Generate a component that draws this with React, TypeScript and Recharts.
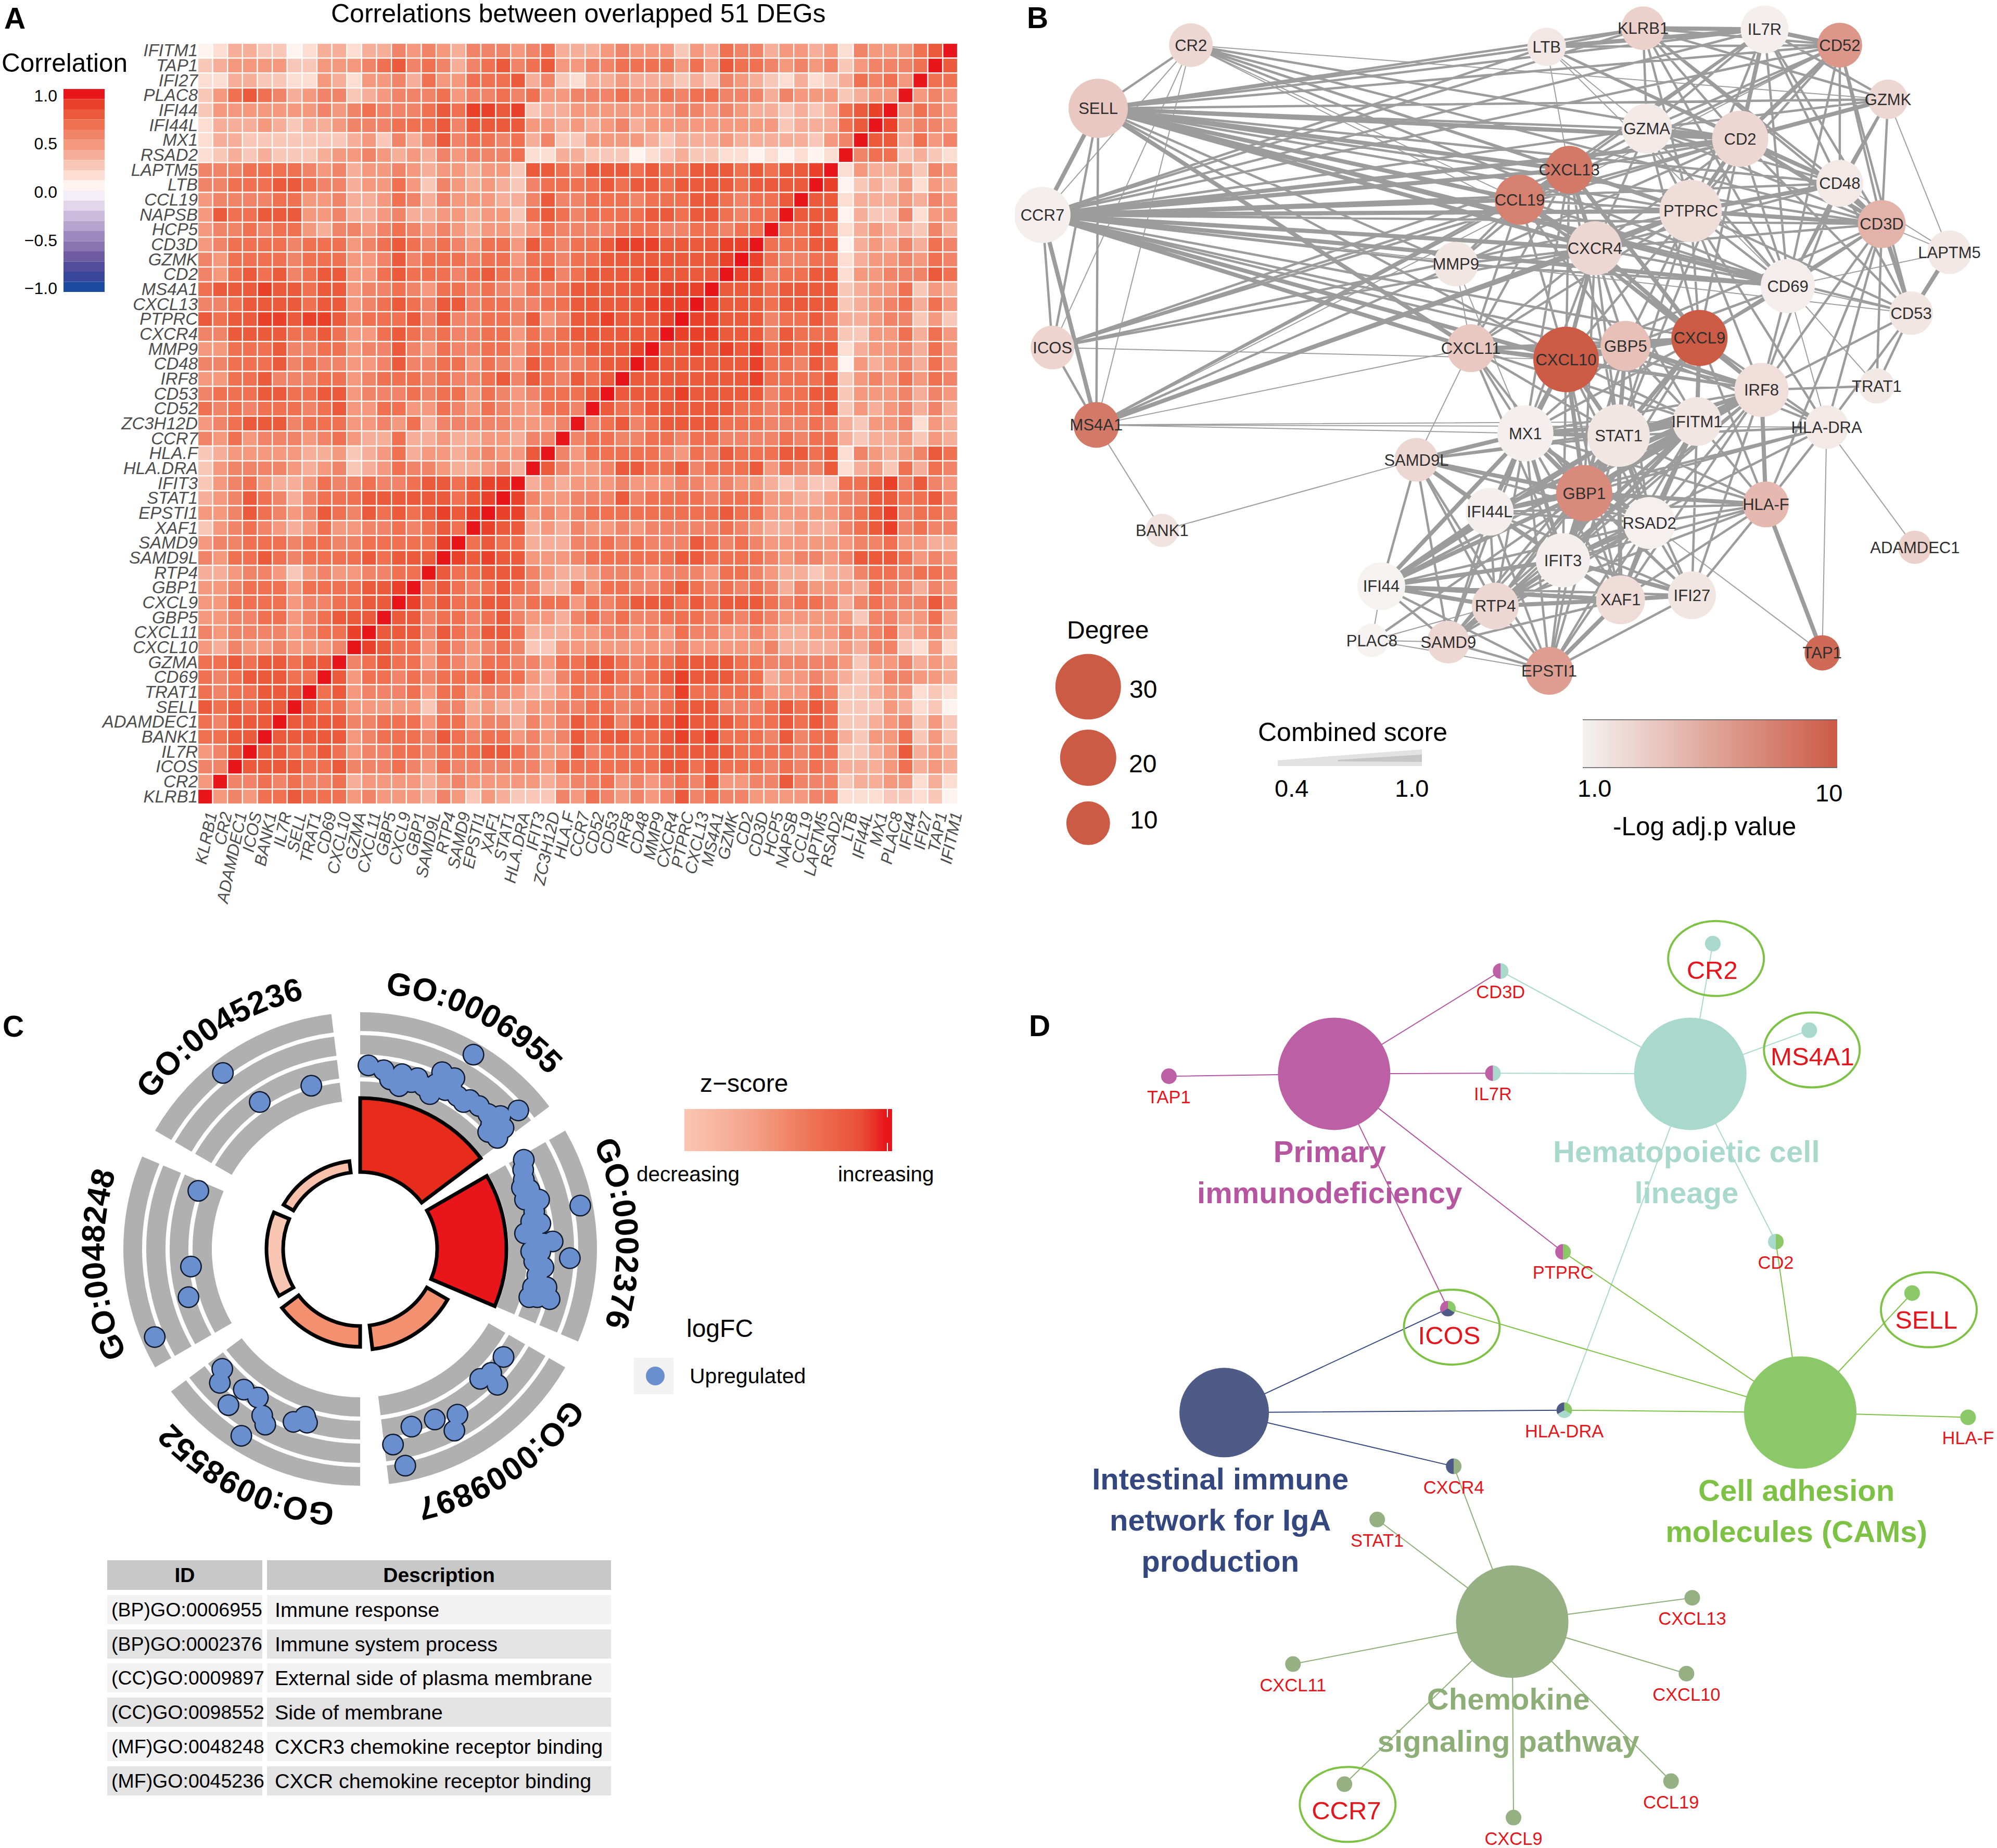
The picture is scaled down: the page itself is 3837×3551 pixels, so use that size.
import React from 'react';
import {
  Area, AreaChart, Bar, BarChart, Cell, ComposedChart, Line, Pie, PieChart, ReferenceLine,
  Scatter, ScatterChart, XAxis, YAxis,
} from 'recharts';

const FONT = '"Liberation Sans", Arial, sans-serif';

// ---- panel A: correlation heatmap
const rowGenes = ['IFITM1','TAP1','IFI27','PLAC8','IFI44','IFI44L','MX1','RSAD2','LAPTM5','LTB','CCL19','NAPSB','HCP5','CD3D','GZMK','CD2','MS4A1','CXCL13','PTPRC','CXCR4','MMP9','CD48','IRF8','CD53','CD52','ZC3H12D','CCR7','HLA.F','HLA.DRA','IFIT3','STAT1','EPSTI1','XAF1','SAMD9','SAMD9L','RTP4','GBP1','CXCL9','GBP5','CXCL11','CXCL10','GZMA','CD69','TRAT1','SELL','ADAMDEC1','BANK1','IL7R','ICOS','CR2','KLRB1'];
const colGenes = ['KLRB1','CR2','ADAMDEC1','ICOS','BANK1','IL7R','SELL','TRAT1','CD69','CXCL10','GZMA','CXCL11','GBP5','CXCL9','GBP1','SAMD9L','RTP4','SAMD9','EPSTI1','XAF1','STAT1','HLA.DRA','IFIT3','ZC3H12D','HLA.F','CCR7','CD52','CD53','IRF8','CD48','MMP9','CXCR4','PTPRC','CXCL13','MS4A1','GZMK','CD2','CD3D','HCP5','NAPSB','CCL19','LAPTM5','RSAD2','LTB','IFI44L','MX1','PLAC8','IFI44','IFI27','TAP1','IFITM1'];

// lower-right triangle, in tenths (X = 1.0); row r starts on the diagonal
const corrTriangle = [
  'X','X8','X77','X565','X5765','X95665','X884756','X6773432','X25445365','X913435254',
  'X8824445465','X88814336255','X778724544364','X7778814546476','X97667724556576','X996778825566687',
  'X8887888834557354','X98887888834567475','X998886778744566353','X9998886877733557475',
  'X88989897878824556475','X988888897768715456475','X8888888897777835657576',
  'X888898888867788' + '35556465',
  'X8778888887767778' + '35456464',
  'X67867888877766676' + '43556254',
  'X677667767766667677' + '43445354',
  'X657777765' + '7687778878' + '26545687',
  'X865568877' + '8677785766' + '824537476',
  'X4545556555' + '6656554343' + '377896865',
  'X9' + '6556668677' + '7767775544' + '566887786',
  'X99' + '5656777777' + '7778775555' + '567896776',
  'X988' + '4546556566' + '6667654454' + '467896766',
  'X7877' + '4446676766' + '6876765555' + '556675544',
  'X98988' + '5556777777' + '8877776566' + '568887565',
  'X877888' + '6544566656' + '6657765443' + '446776776',
  'X7876787' + '6447577667' + '8767676465' + '554766465',
  'X97877886' + '7775767888' + '7878887677' + '646766686',
  'X886776786' + '5546767667' + '7767676555' + '553665574',
  'X8886876887' + '4445566565' + '7665565445' + '565674564',
  'X98775765676' + '3355555555' + '6555556444' + '454663252',
  'X678775765776' + '6577887677' + '8888776666' + '653556454',
  'X8577676777877' + '5467787678' + '9888774556' + '543466554',
  'X78566675775665' + '4457676767' + '9777775557' + '633455232',
  'X877555553664544' + '5566776667' + '8886667878' + '733354231',
  'X8888667775775664' + '6568786888' + '9888777878' + '733456353',
  'X88888567776876775' + '6568788778' + '9897776867' + '743557353',
  'X887787566776777887' + '6558677778' + '8888777767' + '733458454',
  'X8888778666765766666' + '6577777778' + '8787776767' + '644457454',
  'X66767667455554565555' + '5456675656' + '7685566866' + '634455242',
  'X565778777565554653543' + '3365765656' + '8676655556' + '622233231',
];

const corrAt = (r: number, c: number): number => {
  const [row, col] = r + c >= 50 ? [r, c] : [50 - c, 50 - r];
  const ch = corrTriangle[row][col - (50 - row)];
  return ch === 'X' ? 1 : Number(ch) / 10;
};

const heatCells = rowGenes.flatMap((_, r) =>
  colGenes.map((__, c) => ({ x: c + 0.5, y: r + 0.5, corr: corrAt(r, c) })),
);
const geneTicks = colGenes.map((_, i) => i + 0.5);

const corrScale = ['#E8161B','#EA412A','#EC5A3C','#EF7152','#F18468','#F4997E','#F6AE98','#F9C7B7','#FBDDD2','#FEF3EE','#F4EFF6','#E2D6EA','#CBBCDD','#B6A4CE','#9D88BF','#8874B1','#6E5BA0','#524C9B','#39479B','#1C4A9F'];
const corrColor = (v: number) => corrScale[Math.min(19, Math.max(0, Math.floor((1.054 - v) / 0.1054)))];
const corrBins = corrScale.map((fill, i) => ({ x: 0.5, y: 1.054 - 0.1054 * (i + 0.5), fill }));
const corrTicks = [1, 0.5, 0, -0.5, -1];

// ---- panel B: PPI network
const ppiNodes: [string, number, number, number, number][] = [
  ['CR2',281,80,42,0.18],['LTB',849,83,37,0.07],['KLRB1',1003,50,42,0.22],['IL7R',1197,52,46,0.02],['CD52',1317,80,43,0.6],
  ['GZMK',1394,176,38,0.18],['SELL',133,192,57,0.28],['GZMA',1009,228,48,0.05],['CD2',1158,246,54,0.18],['CXCL13',885,301,46,0.8],
  ['CD48',1317,325,45,0.05],['CCL19',806,354,48,0.75],['PTPRC',1079,374,60,0.14],['CCR7',44,381,54,0.02],['CD3D',1384,397,46,0.42],
  ['CXCR4',926,440,52,0.18],['MMP9',704,468,43,0.08],['LAPTM5',1492,447,42,0.06],['CD69',1234,507,52,0.03],['CD53',1431,555,42,0.08],
  ['CXCL9',1093,599,54,1],['CXCL10',880,637,63,1],['GBP5',975,613,48,0.33],['CXCL11',728,617,46,0.28],['ICOS',60,616,42,0.2],
  ['IRF8',1192,691,52,0.13],['TRAT1',1376,684,34,0.06],['MS4A1',130,753,44,0.8],['IFITM1',1089,747,47,0.08],['HLA-DRA',1296,757,42,0.05],
  ['MX1',815,768,54,0.02],['STAT1',964,772,60,0.08],['SAMD9L',641,815,42,0.18],['GBP1',909,874,54,0.68],['HLA-F',1199,894,44,0.38],
  ['IFI44L',758,907,46,0.02],['RSAD2',1013,927,50,0.01],['BANK1',235,940,32,0.1],['ADAMDEC1',1437,970,32,0.22],['IFIT3',875,993,52,0.02],
  ['IFI44',585,1039,46,0],['IFI27',1081,1055,46,0.08],['XAF1',967,1063,47,0.15],['RTP4',767,1074,45,0.18],['SAMD9',692,1138,41,0.18],
  ['PLAC8',570,1135,32,0],['EPSTI1',853,1189,46,0.55],['TAP1',1289,1157,34,0.9],
];

const thickEdges = [
  'SELL>CCR7 CD2 CCL19 CXCL13 CXCL11 CXCR4 CD69','CCR7>CXCL13 CCL19 CXCL11 CXCL10 CXCR4 PTPRC CD2 CD69 MS4A1',
  'CXCL10>CXCL11 GBP5 CXCL9 STAT1 MX1 GBP1 CXCR4','CXCL9>GBP5 IRF8 CXCR4 CXCL13 STAT1 IFITM1','GBP5>CXCL11 IRF8 STAT1',
  'MX1>STAT1 IFITM1 GBP1 IFIT3 IFI44L RSAD2 IFI44 SAMD9L','STAT1>IFITM1 GBP1 IFIT3 IRF8 XAF1 RSAD2 IFI44','IFITM1>IRF8 GBP1 IFIT3 RSAD2',
  'IFIT3>RSAD2 GBP1 XAF1 IFI44 IFI44L RTP4 IFI27','XAF1>IFI27 RSAD2 EPSTI1 RTP4','IFI44>IFI44L RTP4 GBP1 XAF1','GBP1>IRF8 IFI44L RSAD2 HLA-F',
  'CD2>GZMA CD3D GZMK CD48 PTPRC CD52 IL7R','PTPRC>CD3D CXCL13 CD48 CXCR4 MS4A1','KLRB1>IL7R','IL7R>LTB CD52','CD3D>CD53 CD48','TAP1>HLA-F',
  'LAPTM5>CD53','CXCL13>CCL19 CXCR4','CXCR4>CCL19','SAMD9L>GBP1 IFI44L','IRF8>HLA-F IFI44L',
];
const midEdges = [
  'SELL>ICOS MS4A1 LTB CD48 GZMA CD3D MMP9 CD53 IL7R CXCL10 PTPRC KLRB1 CD52 GZMK','CCR7>ICOS GZMA LTB IL7R CD3D CD48 MMP9 CD52 KLRB1 CXCL9 GBP5 IRF8',
  'CR2>SELL CD2 PTPRC CD69 CXCL13 CD3D','ICOS>CD2 CXCR4 CXCL13 CCL19 PTPRC','MS4A1>CXCL13 CCL19 CXCR4 CD2 ICOS','LTB>IL7R CD52 KLRB1 CD2 CD48',
  'KLRB1>CD2 GZMA CD48 CD3D GZMK CD69 PTPRC CD52','IL7R>GZMA CD48 CD3D GZMK PTPRC CCL19 CXCL13 CD69','CD52>GZMA CD48 CD3D CD53 CD69 CCL19 PTPRC',
  'GZMK>GZMA CD48 CD3D CD69','GZMA>CD48 CD3D PTPRC CXCR4 CXCL13 CD69 CXCL9','CD2>CD69 CD53 CXCR4 CXCL13 CCL19 CXCL9 STAT1','CD48>CD3D CD53 CD69 CXCR4 IRF8',
  'PTPRC>CCL19 CD69 CD53 CXCL9 CXCL10 GBP5 IRF8 HLA-DRA CXCL11 STAT1','CD3D>CD69 CXCR4 CXCL9 CXCL10 HLA-F HLA-DRA IRF8 TRAT1','CD53>LAPTM5 TRAT1 IRF8 HLA-DRA',
  'CXCL13>CXCL9 CXCL10 GBP5 CXCL11 STAT1 MMP9 MX1','CCL19>CXCL9 CXCL10 CXCL11 GBP5 MMP9 IRF8 CD69','CXCR4>CXCL11 GBP5 CD69 MMP9 STAT1 IRF8 MX1 IFITM1 GBP1',
  'CXCL11>GBP5 CXCL9 STAT1 MX1 GBP1 IFITM1 IRF8 IFIT3','CXCL10>IRF8 IFITM1 GBP1 IFIT3 RSAD2 IFI44L XAF1','CXCL9>STAT1 MX1 GBP1 HLA-DRA HLA-F IFIT3','GBP5>MX1 GBP1 IFITM1 HLA-DRA IFIT3 RSAD2',
  'IRF8>HLA-DRA IFIT3 RSAD2 MX1 TRAT1 XAF1 IFI27 IFI44 RTP4','IFITM1>HLA-F IFI44L XAF1 IFI27 IFI44 RTP4 EPSTI1 SAMD9 SAMD9L','HLA-DRA>HLA-F GBP1 IFIT3 STAT1 IFI44L','STAT1>HLA-F IFI44L EPSTI1 IFI27 RTP4 SAMD9L SAMD9',
  'MX1>IRF8 HLA-F XAF1 RTP4 SAMD9 EPSTI1 IFI27','GBP1>IFIT3 XAF1 RTP4 EPSTI1 IFI27 IFI44 SAMD9 PLAC8','IFI44L>RSAD2 RTP4 XAF1 EPSTI1 SAMD9 IFI27 IFIT3 HLA-F',
  'RSAD2>XAF1 IFI27 RTP4 HLA-F EPSTI1 IFI44 SAMD9 SAMD9L','IFIT3>EPSTI1 SAMD9 SAMD9L HLA-F','IFI44>SAMD9 SAMD9L EPSTI1 IFI27 RSAD2 IFI44L','RTP4>SAMD9 EPSTI1 IFI27 SAMD9L HLA-F',
  'SAMD9>EPSTI1 SAMD9L XAF1','EPSTI1>IFI27 SAMD9L','HLA-F>IFI27 IFITM1 RSAD2 XAF1','MMP9>CD69 CCR7 SELL','CD69>IRF8 CXCL9 GBP5',
];
const thinEdges = [
  'CCR7>CR2 CD53','CR2>MS4A1 ICOS CCR7 CXCR4 GZMK CCL19','MS4A1>BANK1 CCR7 SELL MX1 IFITM1 CXCL11 CD52 HLA-DRA','BANK1>SAMD9L','ICOS>CXCL10 CCR7 MS4A1',
  'LTB>CXCL13 CD69 GZMA','CD69>CD53 CD3D IRF8 TRAT1 HLA-DRA','LAPTM5>GZMK CD3D CD48 CD69','TRAT1>IRF8 CD3D','MMP9>CXCL11 MX1','SAMD9L>CXCL11 MX1',
  'HLA-DRA>ADAMDEC1 TAP1','RSAD2>TAP1','PLAC8>IFI44 RTP4 SAMD9','EPSTI1>SAMD9 PLAC8','IRF8>GBP5 HLA-DRA TRAT1',
];
const degreeKey = [{ x: 117, y: 1217, r: 63 }, { x: 117, y: 1343, r: 54 }, { x: 117, y: 1459, r: 42 }];
const scoreKey = [
  { score: 0.4, width: 11, core: null },
  { score: 0.65, width: 20, core: [9, 12] },
  { score: 1, width: 32, core: [8, 22] },
];

const ppiPoints = (groups: string[]) => {
  const at = Object.fromEntries(ppiNodes.map(n => [n[0], { x: n[1], y: n[2] }]));
  return groups.flatMap(g => {
    const [from, to] = g.split('>');
    return to.split(' ').flatMap(t => [at[from], at[t], { x: at[t].x, y: null }]);
  });
};
const ppiRows = ppiNodes.map(([name, x, y, r, logP]) => ({ name, x, y, r, logP }));

const shade = (t: number) => {
  const a = [245, 242, 241];
  const b = [203, 91, 69];
  return `rgb(${a.map((v, i) => Math.round(v + (b[i] - v) * t)).join(',')})`;
};

// ---- panel C: GO circle
const goTerms = ['GO:0006955', 'GO:0002376', 'GO:0009897', 'GO:0098552', 'GO:0048248', 'GO:0045236'];
const goDescriptions = ['Immune response', 'Immune system process', 'External side of plasma membrane', 'Side of membrane', 'CXCR3 chemokine receptor binding', 'CXCR chemokine receptor binding'];
const goIds = ['(BP)GO:0006955', '(BP)GO:0002376', '(CC)GO:0009897', '(CC)GO:0098552', '(MF)GO:0048248', '(MF)GO:0045236'];
const goBarHeights = [142, 133, 46, 40, 32, 22];
const goBarColors = ['#E82C1C', '#E8161B', '#F2906F', '#F2906F', '#F9C5B3', '#F9C0AB'];
const goRingSlices = [53, 7, 53, 7, 53, 7, 53, 7, 53, 7, 53, 7].map(value => ({ value }));
const goTracks = [[419, 455], [374, 411], [330, 366], [285, 322]];
const goDots = [
  [771,296],[844,436],[600,323],[625,335],[655,345],[635,358],[650,375],[680,355],[690,375],[720,340],[740,355],[710,370],[725,385],[700,395],[745,400],[765,410],[780,425],[795,445],[815,450],[800,470],[820,480],[810,505],[795,490],[670,365],[755,415],[735,375],
  [945,675],[928,807],[853,560],[852,585],[853,610],[850,630],[878,660],[855,660],[870,690],[880,720],[868,750],[900,765],[880,790],[870,815],[885,830],[875,850],[890,880],[862,905],[895,910],[855,745],[862,635],[865,715],[885,770],[865,790],[868,880],[875,905],
  [820,1055],[800,1095],[782,1110],[810,1125],[745,1200],[740,1240],[708,1212],[670,1230],[640,1275],[660,1328],
  [362,1085],[358,1120],[397,1137],[420,1157],[372,1176],[427,1202],[432,1225],[497,1205],[478,1218],[500,1220],[393,1253],
  [323,638],[311,828],[307,905],[252,1005],
  [363,342],[507,374],[423,415],
].map(([x, y]) => ({ x, y }));

// ---- panel D: pathway network
const MAGENTA = '#BC5FA5';
const TEAL = '#A8D9CA';
const GREEN = '#8BC968';
const NAVY = '#4E5B87';
const OLIVE = '#95B082';
const pathways: [string, number, number, number, string][] = [
  ['Primary', 537, 273, 108, MAGENTA], ['Hema', 1091, 273, 108, TEAL], ['Intestinal', 366, 840, 86, NAVY],
  ['Adhesion', 1262, 840, 108, GREEN], ['Chemokine', 814, 1190, 108, OLIVE],
];
const pathwayGenes: [string, number, number, string[]][] = [
  ['TAP1',280,277,[MAGENTA]],['CD3D',796,101,[TEAL,MAGENTA]],['IL7R',784,272,[TEAL,MAGENTA]],['CR2',1126,55,[TEAL]],['MS4A1',1276,200,[TEAL]],
  ['PTPRC',893,571,[GREEN,MAGENTA]],['CD2',1224,554,[GREEN,TEAL]],['ICOS',714,666,[GREEN,NAVY,MAGENTA]],['SELL',1436,640,[GREEN]],['HLA-F',1523,848,[GREEN]],
  ['HLA-DRA',895,836,[GREEN,TEAL,NAVY]],['CXCR4',723,930,[OLIVE,NAVY]],['STAT1',604,1019,[OLIVE]],['CXCL13',1094,1150,[OLIVE]],['CXCL10',1085,1277,[OLIVE]],
  ['CXCL11',473,1261,[OLIVE]],['CCL19',1061,1457,[OLIVE]],['CXCL9',816,1518,[OLIVE]],['CCR7',553,1462,[OLIVE]],
];
const pathwayLinks: [string, string, string[]][] = [
  ['Primary', '#B455A0', ['TAP1','CD3D','IL7R','PTPRC','ICOS']],
  ['Hema', '#A8D9CA', ['CD3D','IL7R','CR2','MS4A1','CD2','HLA-DRA']],
  ['Adhesion', '#7DC245', ['PTPRC','CD2','ICOS','SELL','HLA-F','HLA-DRA']],
  ['Intestinal', '#34477F', ['ICOS','HLA-DRA','CXCR4']],
  ['Chemokine', '#8EAE77', ['CXCR4','STAT1','CXCL13','CXCL10','CXCL11','CCL19','CXCL9','CCR7']],
];
const circledGenes = [
  { x: 1131, y: 80, name: 'CR2', lx: 1125, ly: 99 }, { x: 1280, y: 233, name: 'MS4A1', lx: 1281, ly: 244 }, { x: 720, y: 697, name: 'ICOS', lx: 716, ly: 711 },
  { x: 1462, y: 668, name: 'SELL', lx: 1458, ly: 685 }, { x: 558, y: 1496, name: 'CCR7', lx: 556, ly: 1506 },
];
const pathwayTitles = [
  { x: 530, y: 403, text: 'Primary', fill: '#B655A0' }, { x: 530, y: 472, text: 'immunodeficiency', fill: '#B655A0' },
  { x: 1085, y: 403, text: 'Hematopoietic cell', fill: '#A8D9CA' }, { x: 1085, y: 472, text: 'lineage', fill: '#A8D9CA' },
  { x: 360, y: 951, text: 'Intestinal immune', fill: '#34477F' }, { x: 360, y: 1020, text: 'network for IgA', fill: '#34477F' }, { x: 360, y: 1089, text: 'production', fill: '#34477F' },
  { x: 1256, y: 970, text: 'Cell adhesion', fill: '#7DC245' }, { x: 1256, y: 1039, text: 'molecules (CAMs)', fill: '#7DC245' },
  { x: 808, y: 1320, text: 'Chemokine', fill: '#8EAE77' }, { x: 808, y: 1390, text: 'signaling pathway', fill: '#8EAE77' },
];

const pathwayLinkPoints = (from: string, to: string[]) => {
  const hub = pathways.find(p => p[0] === from)!;
  return to.flatMap(t => {
    const g = pathwayGenes.find(n => n[0] === t)!;
    return [{ x: hub[1], y: hub[2] }, { x: g[1], y: g[2] }, { x: g[1], y: null }];
  });
};

const abs = (left: number, top: number, width: number, height: number): React.CSSProperties => ({
  position: 'absolute', left, top, width, height,
});

function XGeneTick({ x, y, payload }: any) {
  const name = colGenes[Math.round(payload.value - 0.5)];
  return (
    <text transform={`translate(${x + 23},${y + 10}) rotate(-78)`} textAnchor="end" fontFamily={FONT} fontStyle="italic" fontSize={32} fill="#4d4d4d">
      {name}
    </text>
  );
}

function YGeneTick({ x, y, payload }: any) {
  const name = rowGenes[Math.round(payload.value - 0.5)];
  return (
    <text x={x + 8} y={y + 11} textAnchor="end" fontFamily={FONT} fontStyle="italic" fontSize={33} fill="#4d4d4d">
      {name}
    </text>
  );
}

function PpiNode({ cx, cy, payload }: any) {
  return (
    <g>
      <circle cx={cx} cy={cy} r={payload.r} fill={shade(payload.logP)} />
      <text x={cx} y={cy + 11} textAnchor="middle" fontFamily={FONT} fontSize={31} fill="#2f2f2f">{payload.name}</text>
    </g>
  );
}

function GeneNode({ cx, cy, payload }: any) {
  const { colors, name, big } = payload;
  const r = 15;
  const slice = (i: number) => {
    const a0 = (i / colors.length) * 2 * Math.PI;
    const a1 = ((i + 1) / colors.length) * 2 * Math.PI;
    return `M${cx},${cy}L${cx + r * Math.sin(a0)},${cy - r * Math.cos(a0)}A${r},${r} 0 0 1 ${cx + r * Math.sin(a1)},${cy - r * Math.cos(a1)}Z`;
  };
  return (
    <g>
      {colors.length === 1
        ? <circle cx={cx} cy={cy} r={r} fill={colors[0]} />
        : colors.map((c: string, i: number) => <path key={i} d={slice(i)} fill={c} />)}
      {!big && <text x={cx} y={cy + 52} textAnchor="middle" fontFamily={FONT} fontSize={34.5} fill="#E4161B">{name}</text>}
    </g>
  );
}

const GO_CX = 642;
const GO_CY = 620;

function GoLabel({ index }: any) {
  if (index % 2 === 1) return null;
  const i = index / 2;
  const R = 492;
  const a0 = ((i * 60 - 6) * Math.PI) / 180;
  const a1 = ((i * 60 + 59) * Math.PI) / 180;
  const d = `M${GO_CX + R * Math.sin(a0)},${GO_CY - R * Math.cos(a0)}A${R},${R} 0 0 1 ${GO_CX + R * Math.sin(a1)},${GO_CY - R * Math.cos(a1)}`;
  return (
    <g>
      <path id={`go-arc-${i}`} d={d} fill="none" />
      <text fontFamily={FONT} fontWeight={700} fontSize={62} fill="#000">
        <textPath href={`#go-arc-${i}`} startOffset="50%" textAnchor="middle">{goTerms[i]}</textPath>
      </text>
    </g>
  );
}

const T = ({ x, y, s, bold, anchor, fill, children }: any) => (
  <text x={x} y={y} fontSize={s} fontWeight={bold ? 700 : 400} textAnchor={anchor || 'start'} fill={fill || '#000'} fontFamily={FONT}>{children}</text>
);

function HeatmapPanel() {
  const w = 1460 / 51;
  const h = 1462 / 51;
  return (
    <div style={abs(0, 0, 1900, 1800)}>
      <ScatterChart width={1900} height={1800} margin={{ top: 83, left: 0, right: 60, bottom: 0 }}>
        <XAxis type="number" dataKey="x" domain={[0, 51]} ticks={geneTicks} interval={0} tick={XGeneTick} tickLine={false} axisLine={false} height={255} />
        <YAxis type="number" dataKey="y" domain={[0, 51]} ticks={geneTicks} interval={0} tick={YGeneTick} tickLine={false} axisLine={false} width={380} reversed />
        <Scatter
          data={heatCells}
          isAnimationActive={false}
          shape={(p: any) => <rect x={p.cx - w / 2} y={p.cy - h / 2} width={w} height={h} fill={corrColor(p.payload.corr)} stroke="#fff" strokeWidth={2.2} />}
        />
      </ScatterChart>
    </div>
  );
}

function CorrelationKey() {
  return (
    <div style={abs(122, 171, 79, 390)}>
      <ScatterChart width={79} height={390} margin={{ top: 0, left: 0, right: 0, bottom: 0 }}>
        <XAxis type="number" dataKey="x" domain={[0, 1]} hide />
        <YAxis type="number" dataKey="y" domain={[-1.054, 1.054]} hide />
        <Scatter
          data={corrBins}
          isAnimationActive={false}
          shape={(p: any) => <rect x={p.cx - 39.5} y={p.cy - 9.75} width={79} height={19.5} fill={p.payload.fill} />}
        />
        {corrTicks.flatMap(v => [
          <ReferenceLine key={`l${v}`} segment={[{ x: 0, y: v }, { x: 0.2, y: v }]} stroke="#fff" strokeWidth={2} />,
          <ReferenceLine key={`r${v}`} segment={[{ x: 0.8, y: v }, { x: 1, y: v }]} stroke="#fff" strokeWidth={2} />,
        ])}
      </ScatterChart>
    </div>
  );
}

function PpiPanel() {
  return (
    <div style={abs(1950, 0, 1887, 1700)}>
      <ComposedChart width={1887} height={1700} margin={{ top: 0, left: 0, right: 0, bottom: 0 }}>
        <XAxis type="number" dataKey="x" domain={[0, 1568]} hide />
        <YAxis type="number" dataKey="y" domain={[0, 1568]} reversed hide />
        <Line data={ppiPoints(thinEdges)} dataKey="y" stroke="#9f9f9f" strokeWidth={2} dot={false} legendType="none" isAnimationActive={false} />
        <Line data={ppiPoints(midEdges)} dataKey="y" stroke="#9c9c9c" strokeWidth={4.5} dot={false} legendType="none" isAnimationActive={false} />
        <Line data={ppiPoints(thickEdges)} dataKey="y" stroke="#9c9c9c" strokeWidth={8} dot={false} legendType="none" isAnimationActive={false} />
        <Scatter data={ppiRows} isAnimationActive={false} shape={PpiNode} />
        <Scatter data={degreeKey} isAnimationActive={false} shape={(p: any) => <circle cx={p.cx} cy={p.cy} r={p.payload.r} fill="#CB5B45" />} />
      </ComposedChart>
    </div>
  );
}

function ScoreKeys() {
  return (
    <>
      <div style={abs(2455, 1440, 277, 32)}>
        <AreaChart width={277} height={32} data={scoreKey} margin={{ top: 0, left: 0, right: 0, bottom: 0 }}>
          <XAxis type="number" dataKey="score" domain={[0.4, 1]} hide />
          <YAxis type="number" domain={[0, 32]} hide />
          <Area dataKey="width" stroke="none" fill="#E2E2E2" fillOpacity={1} isAnimationActive={false} />
          <Area dataKey="core" stroke="none" fill="#C6C6C6" fillOpacity={1} isAnimationActive={false} />
        </AreaChart>
      </div>
      <div style={abs(3041, 1383, 489, 92)}>
        <BarChart width={489} height={92} data={[{ name: 'logP', v: 1 }]} margin={{ top: 0, left: 0, right: 0, bottom: 0 }} barCategoryGap={0}>
          <defs>
            <linearGradient id="logp-grad" x1="0" x2="1" y1="0" y2="0">
              <stop offset="0" stopColor="#F5F2F1" />
              <stop offset="1" stopColor="#CB5B45" />
            </linearGradient>
          </defs>
          <XAxis dataKey="name" hide />
          <YAxis domain={[0, 1]} hide />
          <Bar dataKey="v" fill="url(#logp-grad)" isAnimationActive={false} />
        </BarChart>
      </div>
      <div style={abs(1315, 2131, 399, 81)}>
        <BarChart width={399} height={81} data={[{ name: 'z', v: 1 }]} margin={{ top: 0, left: 0, right: 0, bottom: 0 }} barCategoryGap={0}>
          <defs>
            <linearGradient id="z-grad" x1="0" x2="1" y1="0" y2="0">
              <stop offset="0" stopColor="#FAC6B3" />
              <stop offset="0.3" stopColor="#F5A68D" />
              <stop offset="0.6" stopColor="#EE7557" />
              <stop offset="0.85" stopColor="#E94F38" />
              <stop offset="0.97" stopColor="#E8161B" />
              <stop offset="1" stopColor="#E8161B" />
            </linearGradient>
          </defs>
          <XAxis dataKey="name" hide />
          <YAxis domain={[0, 1]} hide />
          <Bar dataKey="v" fill="url(#z-grad)" isAnimationActive={false} />
        </BarChart>
      </div>
    </>
  );
}

function GoCirclePanel() {
  return (
    <>
      <div style={abs(50, 1780, 1300, 1240)}>
        <PieChart width={1300} height={1240} margin={{ top: 0, left: 0, right: 0, bottom: 0 }}>
          {goTracks.map(([inner, outer], t) => (
            <Pie key={t} data={goRingSlices} dataKey="value" cx={GO_CX} cy={GO_CY} startAngle={90} endAngle={-270} innerRadius={inner} outerRadius={outer} stroke="none" isAnimationActive={false} label={t === 0 ? GoLabel : false} labelLine={false}>
              {goRingSlices.map((_, i) => <Cell key={i} fill={i % 2 ? 'transparent' : '#B0B0B0'} />)}
            </Pie>
          ))}
          {goBarHeights.map((height, i) => (
            <Pie key={i} data={[{ value: height }]} dataKey="value" cx={GO_CX} cy={GO_CY} startAngle={90 - i * 60} endAngle={37 - i * 60} innerRadius={148} outerRadius={148 + height} stroke="#000" strokeWidth={7} fill={goBarColors[i]} isAnimationActive={false} />
          ))}
        </PieChart>
      </div>
      <div style={abs(0, 1800, 1850, 1200)}>
        <ScatterChart width={1850} height={1200} margin={{ top: 0, left: 0, right: 0, bottom: 0 }}>
          <XAxis type="number" dataKey="x" domain={[0, 1568]} hide />
          <YAxis type="number" dataKey="y" domain={[0, 1568]} reversed hide />
          <Scatter data={goDots} isAnimationActive={false} shape={(p: any) => <circle cx={p.cx} cy={p.cy} r={21} fill="#101a2e" />} />
          <Scatter data={goDots} isAnimationActive={false} shape={(p: any) => <circle cx={p.cx} cy={p.cy} r={18.5} fill="#6A8FCF" />} />
        </ScatterChart>
      </div>
    </>
  );
}

function GoTable() {
  const cell = (left: number, top: number, width: number, height: number, bg: string, text: string, opts: any = {}) => (
    <div key={`${left}-${top}`} style={{ ...abs(left, top, width, height), background: bg, lineHeight: `${height}px`, fontFamily: FONT, color: '#000', whiteSpace: 'nowrap', textAlign: opts.center ? 'center' : 'left', fontSize: opts.size, fontWeight: opts.bold ? 700 : 400 }}>
      <span style={{ paddingLeft: opts.pad || 0 }}>{text}</span>
    </div>
  );
  return (
    <>
      {cell(206, 2998, 298, 57, '#C8C8C8', 'ID', { center: true, bold: true, size: 39 })}
      {cell(513, 2998, 661, 57, '#C8C8C8', 'Description', { center: true, bold: true, size: 39 })}
      {goIds.map((id, i) => cell(206, 3065 + i * 65.7, 298, 56, i % 2 ? '#E3E3E3' : '#F2F2F2', id, { size: 37.5, pad: 8 }))}
      {goDescriptions.map((d, i) => cell(513, 3065 + i * 65.7, 661, 56, i % 2 ? '#E3E3E3' : '#F2F2F2', d, { size: 39.5, pad: 15 }))}
    </>
  );
}

function PathwayPanel() {
  const hubs = pathways.map(([name, x, y, r, fill]) => ({ name, x, y, r, fill }));
  const genes = pathwayGenes.map(([name, x, y, colors]) => ({ name, x, y, colors, big: circledGenes.some(c => c.name === name) }));
  return (
    <div style={abs(1900, 1750, 1937, 1800)}>
      <ComposedChart width={1937} height={1800} margin={{ top: 0, left: 0, right: 0, bottom: 0 }}>
        <XAxis type="number" dataKey="x" domain={[0, 1568]} hide />
        <YAxis type="number" dataKey="y" domain={[0, 1568]} reversed hide />
        {pathwayLinks.map(([from, color, to]) => (
          <Line key={from} data={pathwayLinkPoints(from, to)} dataKey="y" stroke={color} strokeWidth={2} dot={false} legendType="none" isAnimationActive={false} />
        ))}
        <Scatter data={hubs} isAnimationActive={false} shape={(p: any) => <circle cx={p.cx} cy={p.cy} r={p.payload.r} fill={p.payload.fill} />} />
        <Scatter data={genes} isAnimationActive={false} shape={GeneNode} />
        <Scatter data={circledGenes} isAnimationActive={false} shape={(p: any) => <ellipse cx={p.cx} cy={p.cy} rx={92} ry={72} fill="none" stroke="#7DC245" strokeWidth={4} />} />
        <Scatter
          data={circledGenes.map(c => ({ x: c.lx, y: c.ly, name: c.name }))}
          isAnimationActive={false}
          shape={(p: any) => <text x={p.cx} y={p.cy + 17} textAnchor="middle" fontFamily={FONT} fontSize={49} fill="#E4161B">{p.payload.name}</text>}
        />
        <Scatter
          data={pathwayTitles}
          isAnimationActive={false}
          shape={(p: any) => <text x={p.cx} y={p.cy + 20} textAnchor="middle" fontFamily={FONT} fontWeight={700} fontSize={58} fill={p.payload.fill}>{p.payload.text}</text>}
        />
      </ComposedChart>
    </div>
  );
}

export default function App() {
  return (
    <div style={{ ...abs(0, 0, 3837, 3551), background: '#fff', overflow: 'hidden' }}>
      <HeatmapPanel />
      <CorrelationKey />
      <PpiPanel />
      <ScoreKeys />
      <GoCirclePanel />
      <GoTable />
      <PathwayPanel />
      <svg width={3837} height={3551} style={{ position: 'absolute', left: 0, top: 0, pointerEvents: 'none' }}>
        <T x={8} y={55} s={57} bold>A</T>
        <T x={1973} y={54} s={57} bold>B</T>
        <T x={5} y={1992} s={57} bold>C</T>
        <T x={1977} y={1991} s={57} bold>D</T>
        <T x={636} y={43} s={50}>Correlations between overlapped 51 DEGs</T>
        <T x={3} y={138} s={49.5}>Correlation</T>
        <T x={110} y={195} s={32} anchor="end">1.0</T>
        <T x={110} y={287} s={32} anchor="end">0.5</T>
        <T x={110} y={380} s={32} anchor="end">0.0</T>
        <T x={110} y={473} s={32} anchor="end">−0.5</T>
        <T x={110} y={565} s={32} anchor="end">−1.0</T>

        <T x={2050} y={1227} s={48}>Degree</T>
        <T x={2170} y={1341} s={48}>30</T>
        <T x={2169} y={1484} s={48}>20</T>
        <T x={2171} y={1592} s={48}>10</T>
        <T x={2417} y={1424} s={50}>Combined score</T>
        <T x={2449} y={1531} s={47}>0.4</T>
        <T x={2680} y={1531} s={47}>1.0</T>
        <T x={3031} y={1531} s={47}>1.0</T>
        <T x={3488} y={1540} s={47}>10</T>
        <T x={3099} y={1605} s={49.5}>-Log adj.p value</T>
        <line x1={3041} x2={3530} y1={1383} y2={1383} stroke="#555" strokeWidth={1.5} />
        <line x1={3041} x2={3530} y1={1475} y2={1475} stroke="#555" strokeWidth={1.5} />

        <T x={1345} y={2098} s={48}>z−score</T>
        <T x={1223} y={2270} s={40.5}>decreasing</T>
        <T x={1610} y={2270} s={40.5}>increasing</T>
        <T x={1319} y={2569} s={48}>logFC</T>
        <line x1={1705} x2={1705} y1={2131} y2={2147} stroke="#fff" strokeWidth={2} />
        <line x1={1705} x2={1705} y1={2196} y2={2212} stroke="#fff" strokeWidth={2} />
        <rect x={1218} y={2609} width={76} height={70} fill="#F2F2F2" />
        <circle cx={1259} cy={2644} r={18} fill="#6A8FCF" />
        <T x={1325} y={2658} s={41}>Upregulated</T>
      </svg>
    </div>
  );
}
